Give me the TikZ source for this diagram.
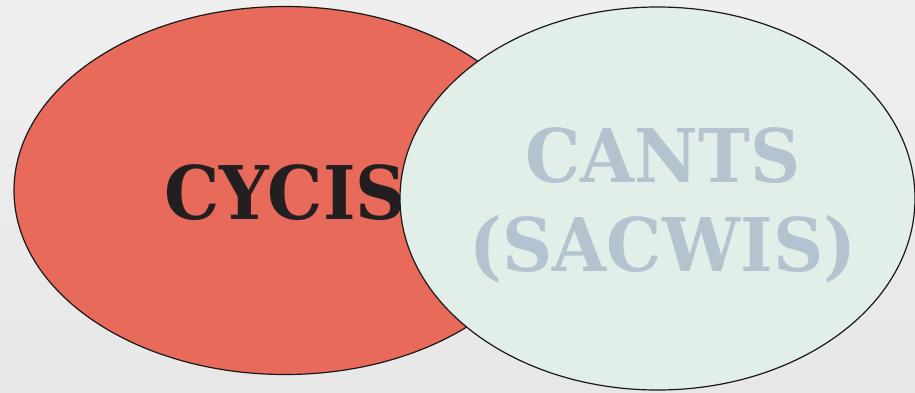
\documentclass[tikz,border=0pt]{standalone}
\usepackage{fontspec}
\newfontfamily\vennfont[FakeStretch=0.94]{DejaVu Serif}
\definecolor{bgtop}{RGB}{239,239,239}
\definecolor{bgbottom}{RGB}{231,231,231}
\definecolor{cycisred}{RGB}{231,106,91}
\definecolor{cantsmint}{RGB}{225,239,232}
\definecolor{cantstext}{RGB}{180,195,208}
\definecolor{cycistext}{RGB}{35,31,32}

\begin{document}
\begin{tikzpicture}[
    x=1pt, y=-1pt,
    setshape/.style={draw=black!90, line width=1.2pt},
    setlabel/.style={font=\vennfont\bfseries\fontsize{74}{89}\selectfont, align=center, inner sep=0pt}
]
\useasboundingbox (0,0) rectangle (915,392);
\shade[top color=bgtop, bottom color=bgbottom] (0,0) rectangle (915,392);
% left set
\draw[setshape, fill=cycisred] (285,190.5) ellipse [x radius=271, y radius=184];
\node[setlabel, text=cycistext, anchor=base] (cycis) at (285,219) {CYCIS};
% right set, drawn over the left one
\draw[setshape, fill=cantsmint] (657.5,198.5) ellipse [x radius=257.5, y radius=191.5];
\node[setlabel, text=cantstext, anchor=base] (cants) at (663,271) {CANTS\\(SACWIS)};
\end{tikzpicture}
\end{document}
